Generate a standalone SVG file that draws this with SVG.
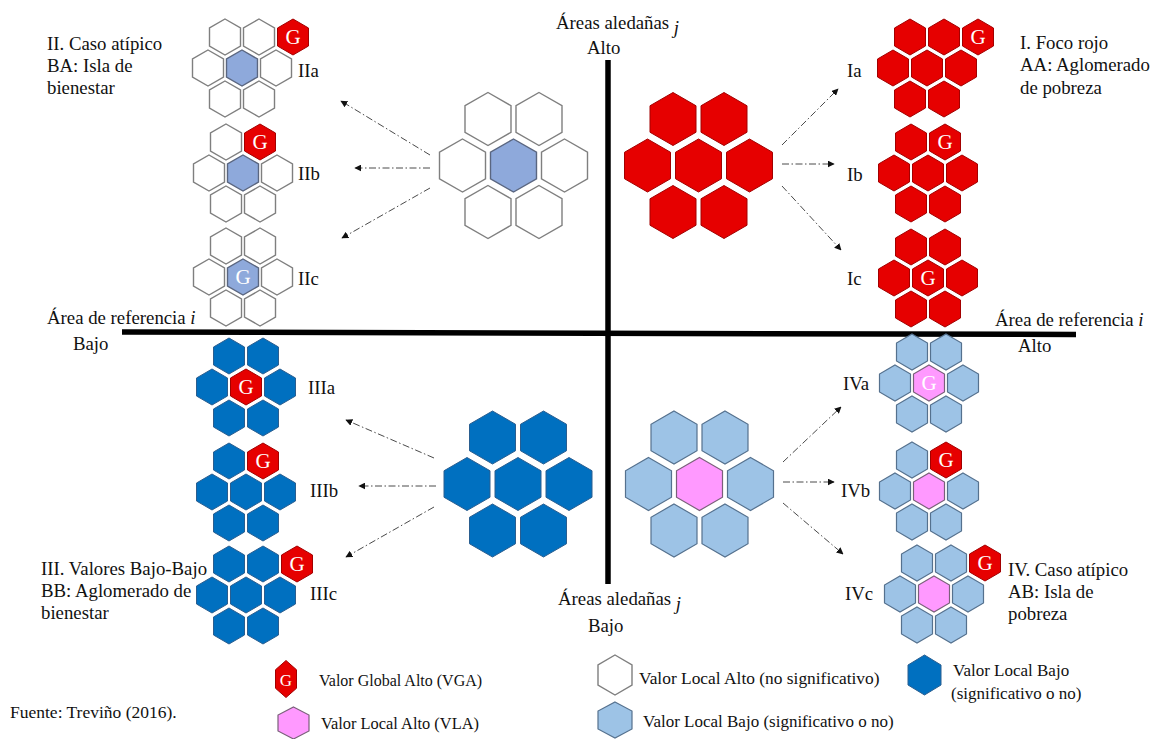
<svg xmlns="http://www.w3.org/2000/svg" xmlns:xlink="http://www.w3.org/1999/xlink" width="1156" height="739" viewBox="0 0 1156 739">
<style>
.t{font-family:"Liberation Serif","Times New Roman",serif;font-size:18.8px;fill:#111}
.it{font-style:italic}
.lg{font-size:17px}
.g{font-family:"Liberation Serif","Times New Roman",serif;font-size:21px;fill:#fff;text-anchor:middle}
.w{fill:#fff;stroke:#7f7f7f;stroke-width:1.4}
.cb{fill:#8ea9db;stroke:#5a6680;stroke-width:1.4}
.r{fill:#e60000;stroke:#a30000;stroke-width:1}
.db{fill:#0070c0;stroke:#2a5e90;stroke-width:1}
.lb{fill:#9dc3e6;stroke:#55718e;stroke-width:1.2}
.pk{fill:#ff99ff;stroke:#7a607a;stroke-width:1.2}
.ax{stroke:#000;stroke-width:5.5;fill:none}
.ar{fill:none;stroke:#4a4a4a;stroke-width:1;stroke-dasharray:7 2.5 1.5 2.5;marker-end:url(#ah)}
</style>
<defs>
<path id="hb" d="M0,-26.5L23,-13.25L23,13.25L0,26.5L-23,13.25L-23,-13.25Z"/>
<path id="hs" d="M0,-18L15.5,-9L15.5,9L0,18L-15.5,9L-15.5,-9Z"/>
<marker id="ah" viewBox="0 0 10 10" refX="9" refY="5" markerWidth="7" markerHeight="7" markerUnits="userSpaceOnUse" orient="auto"><path d="M0,0L10,5L0,10Z" fill="#111"/></marker>
</defs>
<rect width="1156" height="739" fill="#fff"/>

<!-- axes -->
<g id="axes">
<line class="ax" x1="608" y1="60" x2="608" y2="584"/>
<line class="ax" x1="122" y1="332" x2="1076" y2="334.5"/>
<text class="t" x="556" y="29">Áreas aledañas <tspan class="it" dy="5">j</tspan></text>
<text class="t" x="587" y="54">Alto</text>
<text class="t" x="558" y="605">Áreas aledañas <tspan class="it" dy="5">j</tspan></text>
<text class="t" x="588" y="632">Bajo</text>
<text class="t" x="47" y="324">Área de referencia <tspan class="it">i</tspan></text>
<text class="t" x="73" y="350">Bajo</text>
<text class="t" x="995" y="326">Área de referencia <tspan class="it">i</tspan></text>
<text class="t" x="1018" y="352">Alto</text>
</g>

<!-- big clusters -->
<g id="big-II" transform="translate(513.5,165.5)">
<use href="#hb" class="w" x="-25.5" y="-46.5"/><use href="#hb" class="w" x="25.5" y="-46.5"/>
<use href="#hb" class="w" x="-51" y="0"/><use href="#hb" class="cb" x="0" y="0"/><use href="#hb" class="w" x="51" y="0"/>
<use href="#hb" class="w" x="-25.5" y="46.5"/><use href="#hb" class="w" x="25.5" y="46.5"/>
</g>
<g id="big-I" transform="translate(698.5,165.5)">
<use href="#hb" class="r" x="-25.5" y="-46.5"/><use href="#hb" class="r" x="25.5" y="-46.5"/>
<use href="#hb" class="r" x="-51" y="0"/><use href="#hb" class="r" x="0" y="0"/><use href="#hb" class="r" x="51" y="0"/>
<use href="#hb" class="r" x="-25.5" y="46.5"/><use href="#hb" class="r" x="25.5" y="46.5"/>
</g>
<g id="big-III" transform="translate(518,484)">
<use href="#hb" class="db" x="-25.5" y="-46.5"/><use href="#hb" class="db" x="25.5" y="-46.5"/>
<use href="#hb" class="db" x="-51" y="0"/><use href="#hb" class="db" x="0" y="0"/><use href="#hb" class="db" x="51" y="0"/>
<use href="#hb" class="db" x="-25.5" y="46.5"/><use href="#hb" class="db" x="25.5" y="46.5"/>
</g>
<g id="big-IV" transform="translate(699.5,484)">
<use href="#hb" class="lb" x="-25.5" y="-46.5"/><use href="#hb" class="lb" x="25.5" y="-46.5"/>
<use href="#hb" class="lb" x="-51" y="0"/><use href="#hb" class="pk" x="0" y="0"/><use href="#hb" class="lb" x="51" y="0"/>
<use href="#hb" class="lb" x="-25.5" y="46.5"/><use href="#hb" class="lb" x="25.5" y="46.5"/>
</g>

<!-- quadrant II -->
<g id="IIa" transform="translate(242,68)">
<use href="#hs" class="w" x="-17" y="-31"/><use href="#hs" class="w" x="17" y="-31"/><use href="#hs" class="r" x="51" y="-31"/>
<use href="#hs" class="w" x="-34" y="0"/><use href="#hs" class="cb" x="0" y="0"/><use href="#hs" class="w" x="34" y="0"/>
<use href="#hs" class="w" x="-17" y="31"/><use href="#hs" class="w" x="17" y="31"/>
<text class="g" x="51" y="-24">G</text>
</g>
<g id="IIb" transform="translate(243,173)">
<use href="#hs" class="w" x="-17" y="-31"/><use href="#hs" class="r" x="17" y="-31"/>
<use href="#hs" class="w" x="-34" y="0"/><use href="#hs" class="cb" x="0" y="0"/><use href="#hs" class="w" x="34" y="0"/>
<use href="#hs" class="w" x="-17" y="31"/><use href="#hs" class="w" x="17" y="31"/>
<text class="g" x="17" y="-24">G</text>
</g>
<g id="IIc" transform="translate(243,277)">
<use href="#hs" class="w" x="-17" y="-31"/><use href="#hs" class="w" x="17" y="-31"/>
<use href="#hs" class="w" x="-34" y="0"/><use href="#hs" class="cb" x="0" y="0"/><use href="#hs" class="w" x="34" y="0"/>
<use href="#hs" class="w" x="-17" y="31"/><use href="#hs" class="w" x="17" y="31"/>
<text class="g" x="0" y="7">G</text>
</g>
<text class="t" x="298" y="77">IIa</text>
<text class="t" x="298" y="180">IIb</text>
<text class="t" x="298" y="285">IIc</text>
<text class="t" x="47" y="50">II. Caso atípico</text>
<text class="t" x="47" y="72">BA: Isla de</text>
<text class="t" x="47" y="94">bienestar</text>

<!-- quadrant I -->
<g id="Ia" transform="translate(927,68)">
<use href="#hs" class="r" x="-17" y="-31"/><use href="#hs" class="r" x="17" y="-31"/><use href="#hs" class="r" x="51" y="-31"/>
<use href="#hs" class="r" x="-34" y="0"/><use href="#hs" class="r" x="0" y="0"/><use href="#hs" class="r" x="34" y="0"/>
<use href="#hs" class="r" x="-17" y="31"/><use href="#hs" class="r" x="17" y="31"/>
<text class="g" x="51" y="-24">G</text>
</g>
<g id="Ib" transform="translate(928,173)">
<use href="#hs" class="r" x="-17" y="-31"/><use href="#hs" class="r" x="17" y="-31"/>
<use href="#hs" class="r" x="-34" y="0"/><use href="#hs" class="r" x="0" y="0"/><use href="#hs" class="r" x="34" y="0"/>
<use href="#hs" class="r" x="-17" y="31"/><use href="#hs" class="r" x="17" y="31"/>
<text class="g" x="17" y="-24">G</text>
</g>
<g id="Ic" transform="translate(928,278)">
<use href="#hs" class="r" x="-17" y="-31"/><use href="#hs" class="r" x="17" y="-31"/>
<use href="#hs" class="r" x="-34" y="0"/><use href="#hs" class="r" x="0" y="0"/><use href="#hs" class="r" x="34" y="0"/>
<use href="#hs" class="r" x="-17" y="31"/><use href="#hs" class="r" x="17" y="31"/>
<text class="g" x="0" y="7">G</text>
</g>
<text class="t" x="847" y="77">Ia</text>
<text class="t" x="847" y="181">Ib</text>
<text class="t" x="847" y="285">Ic</text>
<text class="t" x="1020" y="49">I. Foco rojo</text>
<text class="t" x="1020" y="71">AA: Aglomerado</text>
<text class="t" x="1020" y="93.5">de pobreza</text>

<!-- quadrant III -->
<g id="IIIa" transform="translate(246,387)">
<use href="#hs" class="db" x="-17" y="-31"/><use href="#hs" class="db" x="17" y="-31"/>
<use href="#hs" class="db" x="-34" y="0"/><use href="#hs" class="r" x="0" y="0"/><use href="#hs" class="db" x="34" y="0"/>
<use href="#hs" class="db" x="-17" y="31"/><use href="#hs" class="db" x="17" y="31"/>
<text class="g" x="0" y="7">G</text>
</g>
<g id="IIIb" transform="translate(246,492)">
<use href="#hs" class="db" x="-17" y="-31"/><use href="#hs" class="r" x="17" y="-31"/>
<use href="#hs" class="db" x="-34" y="0"/><use href="#hs" class="db" x="0" y="0"/><use href="#hs" class="db" x="34" y="0"/>
<use href="#hs" class="db" x="-17" y="31"/><use href="#hs" class="db" x="17" y="31"/>
<text class="g" x="17" y="-24">G</text>
</g>
<g id="IIIc" transform="translate(246,595)">
<use href="#hs" class="db" x="-17" y="-31"/><use href="#hs" class="db" x="17" y="-31"/><use href="#hs" class="r" x="51" y="-31"/>
<use href="#hs" class="db" x="-34" y="0"/><use href="#hs" class="db" x="0" y="0"/><use href="#hs" class="db" x="34" y="0"/>
<use href="#hs" class="db" x="-17" y="31"/><use href="#hs" class="db" x="17" y="31"/>
<text class="g" x="51" y="-24">G</text>
</g>
<text class="t" x="308" y="394">IIIa</text>
<text class="t" x="310" y="497">IIIb</text>
<text class="t" x="310" y="600">IIIc</text>
<text class="t" x="41" y="575">III. Valores Bajo-Bajo</text>
<text class="t" x="41" y="597">BB: Aglomerado de</text>
<text class="t" x="41" y="619">bienestar</text>

<!-- quadrant IV -->
<g id="IVa" transform="translate(929,383)">
<use href="#hs" class="lb" x="-17" y="-31"/><use href="#hs" class="lb" x="17" y="-31"/>
<use href="#hs" class="lb" x="-34" y="0"/><use href="#hs" class="pk" x="0" y="0"/><use href="#hs" class="lb" x="34" y="0"/>
<use href="#hs" class="lb" x="-17" y="31"/><use href="#hs" class="lb" x="17" y="31"/>
<text class="g" x="0" y="7">G</text>
</g>
<g id="IVb" transform="translate(929,491)">
<use href="#hs" class="lb" x="-17" y="-31"/><use href="#hs" class="r" x="17" y="-31"/>
<use href="#hs" class="lb" x="-34" y="0"/><use href="#hs" class="pk" x="0" y="0"/><use href="#hs" class="lb" x="34" y="0"/>
<use href="#hs" class="lb" x="-17" y="31"/><use href="#hs" class="lb" x="17" y="31"/>
<text class="g" x="17" y="-24">G</text>
</g>
<g id="IVc" transform="translate(934,594)">
<use href="#hs" class="lb" x="-17" y="-31"/><use href="#hs" class="lb" x="17" y="-31"/><use href="#hs" class="r" x="51" y="-31"/>
<use href="#hs" class="lb" x="-34" y="0"/><use href="#hs" class="pk" x="0" y="0"/><use href="#hs" class="lb" x="34" y="0"/>
<use href="#hs" class="lb" x="-17" y="31"/><use href="#hs" class="lb" x="17" y="31"/>
<text class="g" x="51" y="-24">G</text>
</g>
<text class="t" x="843" y="390">IVa</text>
<text class="t" x="841" y="497">IVb</text>
<text class="t" x="845" y="600">IVc</text>
<text class="t" x="1008" y="576">IV. Caso atípico</text>
<text class="t" x="1008" y="598">AB: Isla de</text>
<text class="t" x="1008" y="620">pobreza</text>

<!-- connectors -->
<g id="connectors">
<line class="ar" x1="430" y1="155" x2="341" y2="101"/>
<line class="ar" x1="430" y1="168" x2="355" y2="168"/>
<line class="ar" x1="430" y1="188" x2="342" y2="238"/>
<line class="ar" x1="782" y1="145" x2="838" y2="89"/>
<line class="ar" x1="782" y1="164" x2="834" y2="164"/>
<line class="ar" x1="782" y1="186" x2="841" y2="250"/>
<line class="ar" x1="434" y1="458" x2="346" y2="420"/>
<line class="ar" x1="436" y1="486" x2="359" y2="486"/>
<line class="ar" x1="434" y1="507" x2="346" y2="557"/>
<line class="ar" x1="783" y1="462" x2="841" y2="407"/>
<line class="ar" x1="783" y1="482" x2="834" y2="482"/>
<line class="ar" x1="783" y1="503" x2="843" y2="554"/>
</g>

<!-- legend -->
<g id="legend">
<polygon class="r" points="286,660.5 296.5,669.75 296.5,688.25 286,697.5 275.5,688.25 275.5,669.75"/>
<text class="g" x="286" y="686" style="font-size:17px">G</text>
<text class="t lg" x="319" y="686" style="font-size:16px">Valor Global Alto (VGA)</text>
<polygon class="pk" points="293.5,707 309,715 309,731 293.5,739 278,731 278,715"/>
<text class="t lg" x="321" y="729" style="font-size:16.4px">Valor Local Alto (VLA)</text>
<polygon class="w" points="615,655 632,665 632,685 615,695 598,685 598,665"/>
<text class="t lg" x="639" y="684" style="font-size:17.4px">Valor Local Alto (no significativo)</text>
<polygon class="lb" points="615,702 632,711 632,729 615,738 598,729 598,711"/>
<text class="t lg" x="643" y="727">Valor Local Bajo (significativo o no)</text>
<polygon class="db" points="924.5,655 941,665 941,685 924.5,695 908,685 908,665"/>
<text class="t lg" x="953" y="676">Valor Local Bajo</text>
<text class="t lg" x="951" y="699">(significativo o no)</text>
<text class="t" x="10" y="718" style="font-size:17.5px">Fuente: Treviño (2016).</text>
</g>
</svg>
